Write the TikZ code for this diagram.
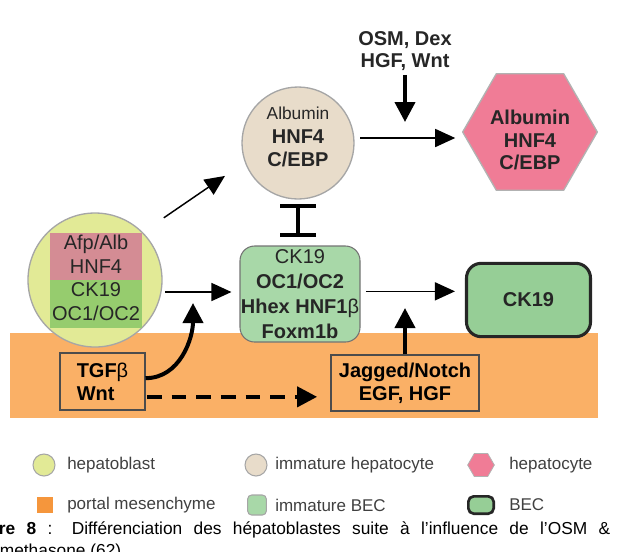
\documentclass[tikz,border=0pt]{standalone}
\usepackage{fontspec}
\setmainfont{Liberation Sans}
\usepackage{tikz}
\usetikzlibrary{arrows.meta,shapes.geometric}

\definecolor{hbfill}{RGB}{226,234,150}
\definecolor{hbpink}{RGB}{212,140,148}
\definecolor{hbgreen}{RGB}{150,204,110}
\definecolor{ihfill}{RGB}{232,220,202}
\definecolor{hxfill}{RGB}{240,124,150}
\definecolor{ibfill}{RGB}{168,216,168}
\definecolor{becfill}{RGB}{150,206,150}
\definecolor{mesfill}{RGB}{250,176,102}
\definecolor{mesicon}{RGB}{245,150,60}

\begin{document}
\begin{tikzpicture}[x=0.75pt,y=0.75pt,yscale=-1,xscale=1,
  arr/.style={-{Triangle[length=15pt,width=13.5pt]},line width=1.1pt},
  fatarr/.style={-{Triangle[length=15pt,width=15pt]},line width=3pt},
  lbl/.style={font=\fontsize{15}{17.6}\selectfont,align=center,inner sep=0pt,text=black!85},
  legtxt/.style={font=\fontsize{12.75}{14}\selectfont,anchor=west,inner sep=0pt,text=black!75},
  boxlbl/.style={draw=black!70,fill=mesfill,line width=0.8pt,align=left,inner sep=0pt,
    font=\fontsize{15}{17.2}\selectfont}]
\useasboundingbox (0,0) rectangle (624,551);
\clip (0,0) rectangle (624,551);

%Portal mesenchyme band
\fill[mesfill] (10,333) rectangle (598,418);

%Hepatoblast
\node[circle,draw=gray!70,line width=1pt,fill=hbfill,minimum size=100.5pt,inner sep=0pt] (hb) at (95,280) {};
\fill[hbpink] (50,233) rectangle (142,280);
\fill[hbgreen] (50,280) rectangle (142,328);
\node[lbl] (hbtext) at (96,278) {Afp/Alb\\HNF4\\CK19\\OC1/OC2};

%Immature hepatocyte
\node[circle,draw=gray!70,line width=1pt,fill=ihfill,minimum size=84pt,inner sep=0pt] (ih) at (298,143) {};
\node[lbl] (ihtext) at (298,137) {{\fontsize{13}{15}\selectfont Albumin}\\\textbf{HNF4}\\\textbf{C/EBP}};

%Hepatocyte
\node[regular polygon,regular polygon sides=6,draw=gray!60,line width=1pt,fill=hxfill,minimum size=101pt,inner sep=0pt] (hx) at (530,132) {};
\node[lbl,font=\fontsize{15}{16.8}\selectfont] (hxtext) at (530,140) {\textbf{Albumin}\\\textbf{HNF4}\\\textbf{C/EBP}};

%Immature BEC
\node[rectangle,rounded corners=11pt,draw=black!55,line width=0.8pt,fill=ibfill,minimum width=90pt,minimum height=72pt,
  lbl,font=\fontsize{15}{18.75}\selectfont] (ib) at (300,294) {CK19\\\textbf{OC1/OC2}\\\textbf{Hhex HNF1}β\\\textbf{Foxm1b}};

%BEC
\node[rectangle,rounded corners=11pt,draw=black!85,line width=2.3pt,fill=becfill,minimum width=93pt,minimum height=55pt,
  lbl] (bec) at (528.5,300) {\textbf{CK19}};

%Signals
\node[lbl,font=\fontsize{15}{16.5}\selectfont] (osm) at (405,51) {\textbf{OSM, Dex}\\\textbf{HGF, Wnt}};
\node[boxlbl,minimum width=63.75pt,minimum height=42.75pt] (tgf) at (102.5,381.5) {\textbf{TGF}β\\\textbf{Wnt}};
\node[boxlbl,align=center,minimum width=111pt,minimum height=42pt] (jag) at (405,383) {\textbf{Jagged/Notch}\\\textbf{EGF, HGF}};

%Arrows (yscale=-1: a positive yshift goes down)
\draw[arr,shorten <=19pt,shorten >=18pt] (hb.45) -- (ih.200);
\draw[arr,shorten <=4pt,shorten >=5pt] ([yshift=-3.75pt]ih.east) -- ([yshift=4.5pt]hx.west);
\draw[fatarr,shorten <=3pt,shorten >=7.5pt] (osm.south) -- (osm.south |- hx.west);
\draw[{Bar[width=27pt]}-{Bar[width=27pt]},line width=3pt,shorten <=3pt,shorten >=6pt] (ih.south) -- (ih.south |- ib.north);
\draw[arr,shorten <=2pt,shorten >=6pt] ([yshift=-1.5pt]hb.east |- ib.west) -- ([yshift=-1.5pt]ib.west);
\draw[arr,shorten <=4pt,shorten >=7.5pt] ([yshift=-2pt]ib.east) -- ([yshift=-2pt]ib.east -| bec.west);
\draw[fatarr,shorten >=10.5pt] (jag.north) -- (jag.north |- ib.east);
\coordinate (tgftip) at (193,303);
\draw[fatarr] ([yshift=-2.5pt]tgf.east) to[out=0,in=90] (tgftip);
\coordinate (dashstart) at ([yshift=11.5pt]tgf.east);
\draw[fatarr,dash pattern=on 11pt off 7.5pt,shorten <=1pt,shorten >=10pt] (dashstart) -- (dashstart -| jag.west);

%Legend
\node[circle,draw=gray!70,line width=0.8pt,fill=hbfill,minimum size=16.5pt,inner sep=0pt] (lghb) at (44,465) {};
\node[legtxt] (lghbt) at (67,465) {hepatoblast};
\node[circle,draw=gray!70,line width=0.8pt,fill=ihfill,minimum size=16.5pt,inner sep=0pt] (lgih) at (256,465) {};
\node[legtxt] (lgiht) at (275,465) {immature hepatocyte};
\node[regular polygon,regular polygon sides=6,draw=gray!60,line width=0.6pt,fill=hxfill,minimum size=20pt,inner sep=0pt] (lghx) at (481,465) {};
\node[legtxt] (lghxt) at (509,465) {hepatocyte};
\node[rectangle,fill=mesicon,minimum size=11.5pt,inner sep=0pt] (lgmes) at (45,505) {};
\node[legtxt] (lgmest) at (67,505) {portal mesenchyme};
\node[rectangle,rounded corners=3pt,draw=gray!70,line width=0.8pt,fill=ibfill,minimum width=14pt,minimum height=15pt,inner sep=0pt] (lgib) at (257,505) {};
\node[legtxt] (lgibt) at (275,505) {immature BEC};
\node[rectangle,rounded corners=4pt,draw=black!85,line width=2pt,fill=becfill,minimum width=19pt,minimum height=13pt,inner sep=0pt] (lgbec) at (481,505) {};
\node[legtxt] (lgbect) at (509,505) {BEC};

%Caption
\node[anchor=north west,inner sep=0pt,text width=486pt,align=justify,font=\fontsize{13}{16.5}\selectfont] (cap) at (-38,521)
  {\textbf{Figure 8} : Différenciation des hépatoblastes suite à l'influence de l'OSM \&\linebreak dexamethasone (62)};

\end{tikzpicture}
\end{document}
